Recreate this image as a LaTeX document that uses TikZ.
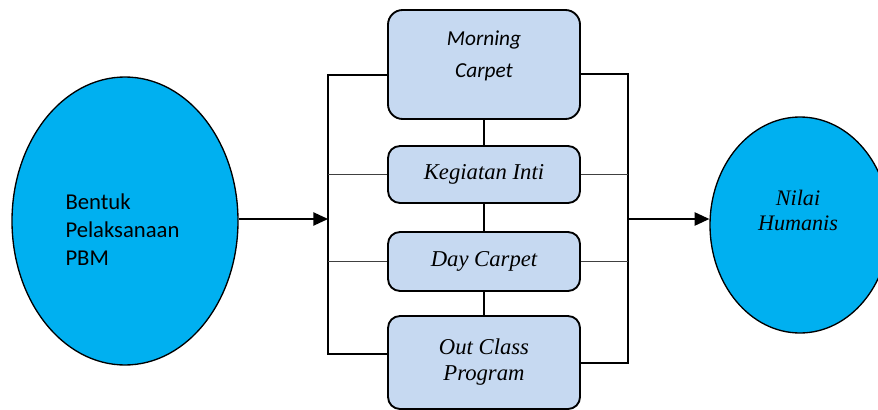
\documentclass[tikz,border=0pt]{standalone}
\usepackage{fontspec}
\setmainfont{Liberation Serif}
\newfontfamily\calibri{Carlito}
\usetikzlibrary{shapes.geometric,arrows.meta}

\definecolor{cyanfill}{RGB}{0,176,240}
\definecolor{boxfill}{RGB}{198,217,241}

\tikzset{every picture/.style={line width=0.75pt}}
\tikzset{
	blob/.style={ellipse, draw, line width=1pt, fill=cyanfill, inner sep=0pt},
	stage/.style={draw, line width=1.4pt, rounded corners=9pt, fill=boxfill, minimum width=144pt, align=center, inner sep=0pt, font=\itshape\fontsize{17}{19.5}\selectfont},
	lead/.style={line width=0.9pt},
	leadthin/.style={line width=0.6pt, black!75},
	feed/.style={line width=1pt, -{Triangle[length=11pt,width=10pt]}}
}

\begin{document}
\begin{tikzpicture}[x=0.75pt,y=0.75pt,yscale=-1,xscale=1]
	\useasboundingbox (0,0) rectangle (878,410);

	%Shape: Ellipse [id:pbm]
	\draw (125,221) node [blob, minimum width=169.5pt, minimum height=216pt] (pbm) {};
	%Shape: Ellipse [id:nh]
	\draw (800,225) node [blob, minimum width=135pt, minimum height=162pt] (nh) {};

	%Shape: Rounded Rect [id:mc]
	\draw (484,64.5) node [stage, minimum height=81.75pt, rounded corners=11pt] (mc) {};
	%Shape: Rounded Rect [id:ki]
	\draw (484,174.5) node [stage, minimum height=42.75pt] (ki) {Kegiatan Inti};
	%Shape: Rounded Rect [id:dc]
	\draw (484,261.5) node [stage, minimum height=44.25pt] (dc) {Day Carpet};
	%Shape: Rounded Rect [id:oc]
	\draw (484,362.5) node [stage, minimum height=69.75pt] (oc) {Out Class\\Program};

	% Text Node
	\draw (65,230) node [anchor=west, inner sep=0pt, align=left, font=\calibri\fontsize{17}{21}\selectfont] (pbmtext) {Bentuk\\Pelaksanaan\\PBM};
	% Text Node
	\draw (484,56) node [align=center, font=\calibri\itshape\fontsize{16}{24}\selectfont] (mctext) {Morning\\Carpet};
	% Text Node
	\draw (798,210) node [align=center, font=\itshape\fontsize{16.6}{18.75}\selectfont] (nhtext) {Nilai\\Humanis};

	%Bus points
	\coordinate (lbtop) at (328,75);
	\coordinate (lbbot) at (328,354);
	\coordinate (rbtop) at (628,74);
	\coordinate (rbbot) at (628,363);
	\coordinate (lin) at (328,219);
	\coordinate (rout) at (628,219);

	%Straight Lines [id:left bus]
	\draw [lead] (mc.west |- lbtop) -- (lbtop) -- (lbbot) -- (oc.west |- lbbot);
	\draw [leadthin] (ki.west) -- (ki.west -| lbtop);
	\draw [leadthin] (dc.west) -- (dc.west -| lbtop);
	%Straight Lines [id:right bus]
	\draw [lead] (mc.east |- rbtop) -- (rbtop) -- (rbbot) -- (oc.east |- rbbot);
	\draw [leadthin] (ki.east) -- (ki.east -| rbtop);
	\draw [leadthin] (dc.east) -- (dc.east -| rbtop);

	%Straight Lines [id:stack]
	\draw [lead] (mc) -- (ki);
	\draw [lead] (ki) -- (dc);
	\draw [lead] (dc) -- (oc);

	%Straight Lines [id:arrows]
	\draw [feed] (pbm.east |- lin) -- (lin);
	\draw [feed] (rout) -- (nh.west |- rout);

\end{tikzpicture}
\end{document}
